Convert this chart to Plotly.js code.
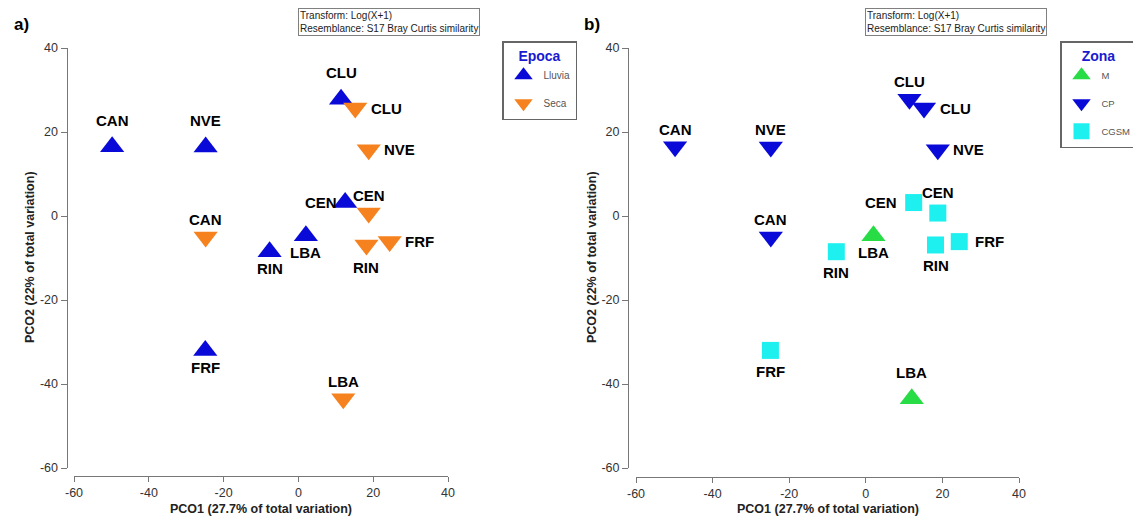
<!DOCTYPE html>
<html>
<head>
<meta charset="utf-8">
<script src="https://cdn.plot.ly/plotly-3.0.1.min.js"></script>
<style>
html,body{margin:0;padding:0;background:#fff;}
#chart{width:1133px;height:523px;}
</style>
</head>
<body>
<div id="chart"></div>
<script>
// ---- data ----
const sites  = ['CAN','NVE','CLU','CLU','NVE','CEN','CEN','CAN','LBA','RIN','RIN','FRF','FRF','LBA'];
const pco1   = [-49.8,-24.8,11.4,15.2,18.8,12.5,18.8,-24.8,2.0,-7.7,18.2,24.4,-24.9,12.0];
const pco2   = [16.5,16.4,27.8,25.7,15.8,3.2,0.7,-5.0,-4.7,-8.5,-6.9,-6.1,-32.0,-43.5];
const epoca  = ['Lluvia','Lluvia','Lluvia','Seca','Seca','Lluvia','Seca','Seca','Lluvia','Lluvia','Seca','Seca','Lluvia','Seca'];
const zona   = ['CP','CP','CP','CP','CP','CGSM','CGSM','CP','M','CGSM','CGSM','CGSM','CGSM','M'];
const labelSide = ['top','top','top','right','right','left','top','top','bottom','bottom','bottom','right','bottom','top'];

const epocaLevels = ['Lluvia','Seca'];
const zonaLevels  = ['M','CP','CGSM'];
const tickVals  = [-60,-40,-20,0,20,40];
const tickTexts = ['-60','-40','-20','0','20','40'];
const xTitle = 'PCO1 (27.7% of total variation)';
const yTitle = 'PCO2 (22% of total variation)';
const transformText = 'Transform: Log(X+1)<br>Resemblance: S17 Bray Curtis similarity';

// ---- styles ----
const epocaStyle = {
  Lluvia: {symbol:'triangle-up',   color:'#0a0ad8', size:21},
  Seca:   {symbol:'triangle-down', color:'#f5821f', size:21}
};
const zonaStyle = {
  M:    {symbol:'triangle-up',   color:'#27dc45', size:21},
  CP:   {symbol:'triangle-down', color:'#0a0ad8', size:21},
  CGSM: {symbol:'square',        color:'#1ef0f0', size:17}
};

const W = 1133, H = 523;
const px = v => v / W;
const py = v => 1 - v / H;

const traces = [];
epocaLevels.forEach((lev, gi) => {
  const idx = epoca.map((e,i)=>e===lev?i:-1).filter(i=>i>=0);
  const st = epocaStyle[lev];
  traces.push({
    type:'scatter', mode:'markers', name:lev,
    x: idx.map(i=>pco1[i]), y: idx.map(i=>pco2[i]),
    xaxis:'x', yaxis:'y', legend:'legend', legendgroup:'e'+gi,
    marker:{symbol:st.symbol, color:st.color, size:st.size, line:{width:0}},
    hoverinfo:'skip'
  });
});
zonaLevels.forEach((lev, gi) => {
  const idx = zona.map((e,i)=>e===lev?i:-1).filter(i=>i>=0);
  const st = zonaStyle[lev];
  traces.push({
    type:'scatter', mode:'markers', name:lev,
    x: idx.map(i=>pco1[i]), y: idx.map(i=>pco2[i]),
    xaxis:'x2', yaxis:'y2', legend:'legend2', legendgroup:'z'+gi,
    marker:{symbol:st.symbol, color:st.color, size:st.size, line:{width:0}},
    hoverinfo:'skip'
  });
});

// label offsets depend on the marker shape beside which the label sits
const shiftTable = {
  'triangle-up':   {top:16, bottom:-6.5, right:13.5, left:-6},
  'triangle-down': {top:7,  bottom:-12,  right:13.5, left:-6},
  'square':        {top:10.5, bottom:-10.5, right:13.5, left:-15}
};
const labelFont = {family:'Arial, Liberation Sans, sans-serif', size:15, color:'#000', weight:'bold'};
function labelAnn(i, xr, yr, symbol) {
  const s = labelSide[i];
  const sh = shiftTable[symbol][s];
  const a = {x:pco1[i], y:pco2[i], xref:xr, yref:yr, text:sites[i], showarrow:false, font:labelFont};
  if (s==='top')    { a.yanchor='bottom'; a.xanchor='center'; a.yshift=sh; }
  if (s==='bottom') { a.yanchor='top';    a.xanchor='center'; a.yshift=sh; }
  if (s==='right')  { a.xanchor='left';   a.yanchor='middle'; a.xshift=sh; }
  if (s==='left')   { a.xanchor='right';  a.yanchor='middle'; a.xshift=sh; }
  return a;
}

const annotations = [];
sites.forEach((s,i)=>{
  annotations.push(labelAnn(i,'x','y', epocaStyle[epoca[i]].symbol));
  annotations.push(labelAnn(i,'x2','y2', zonaStyle[zona[i]].symbol));
});

const tickFont = {family:'Arial, Liberation Sans, sans-serif', size:12.5, color:'#333'};
const titleFont = {family:'Arial, Liberation Sans, sans-serif', size:12.5, color:'#222', weight:'bold'};

// panel letters, transform boxes, axis titles
[['a)', 12, 'x', 298, 261, 30], ['b)', 582, 'x2', 865, 827.5, 592]].forEach(p => {
  annotations.push({xref:'paper', yref:'paper', x:px(p[1]), y:py(13), xanchor:'left', yanchor:'top',
    text:'<b>'+p[0]+'</b>', showarrow:false, font:{family:'Arial, Liberation Sans, sans-serif', size:17, color:'#000'}});
  annotations.push({xref:'paper', yref:'paper', x:px(p[3]), y:py(8), xanchor:'left', yanchor:'top',
    text:transformText, showarrow:false, align:'left', bordercolor:'#808080', borderwidth:1, borderpad:1,
    bgcolor:'#fff', font:{family:'Arial, Liberation Sans, sans-serif', size:10, color:'#222'}});
  annotations.push({xref:'paper', yref:'paper', x:px(p[4]), y:py(509), xanchor:'center', yanchor:'middle',
    text:xTitle, showarrow:false, font:titleFont});
  annotations.push({xref:'paper', yref:'paper', x:px(p[5]), y:py(257), xanchor:'center', yanchor:'middle',
    text:yTitle, textangle:-90, showarrow:false, font:titleFont});
});

function xAxis(d0, d1, linePos) {
  return {domain:[px(d0), px(d1)], range:[-60,40], anchor:'free', position:py(linePos),
    tickvals:tickVals, ticktext:tickTexts, ticks:'outside', ticklen:5, tickcolor:'#777', tickwidth:1,
    showline:true, linecolor:'#777', linewidth:1, showgrid:false, zeroline:false,
    tickfont:tickFont, fixedrange:true};
}
function yAxis(linePos) {
  return {domain:[py(468), py(48)], range:[-60,40], anchor:'free', position:px(linePos),
    tickvals:tickVals, ticktext:tickTexts, ticks:'outside', ticklen:6, tickcolor:'#777', tickwidth:1,
    showline:true, linecolor:'#777', linewidth:1, showgrid:false, zeroline:false,
    tickfont:tickFont, fixedrange:true};
}

const legendCommon = {
  xanchor:'left', yanchor:'top', bgcolor:'#fff', bordercolor:'#666', borderwidth:1.5,
  font:{family:'Arial, Liberation Sans, sans-serif', size:10, color:'#555'},
  itemwidth:30, tracegroupgap:9, itemclick:false, itemdoubleclick:false
};

const layout = {
  width:W, height:H, margin:{l:0,r:0,t:0,b:0,autoexpand:false},
  paper_bgcolor:'#fff', plot_bgcolor:'#fff', showlegend:true,
  xaxis: xAxis(74, 448, 476),
  yaxis: yAxis(66.5),
  xaxis2: xAxis(636, 1019, 477),
  yaxis2: yAxis(628),
  legend: Object.assign({}, legendCommon, {x:px(502), y:py(41),
    title:{text:'<b>Epoca</b>', side:'top center', font:{family:'Arial, Liberation Sans, sans-serif', size:14, color:'#1a1ad0'}}}),
  legend2: Object.assign({}, legendCommon, {x:px(1060), y:py(41),
    font:{family:'Arial, Liberation Sans, sans-serif', size:9.5, color:'#555'},
    title:{text:'<b>Zona</b>', side:'top center', font:{family:'Arial, Liberation Sans, sans-serif', size:14, color:'#1a1ad0'}}}),
  annotations: annotations
};

Plotly.newPlot('chart', traces, layout, {displayModeBar:false, staticPlot:true});
</script>
</body>
</html>
